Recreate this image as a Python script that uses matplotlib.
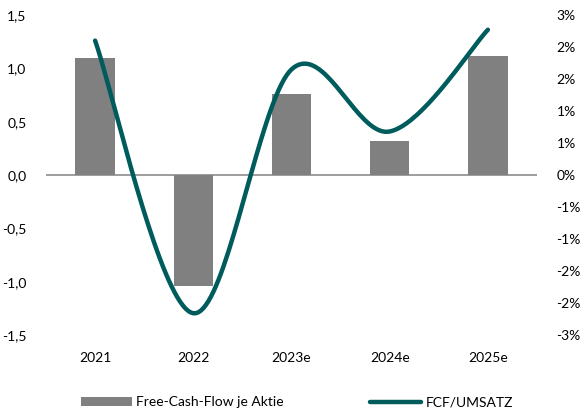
import matplotlib
matplotlib.use('Agg')
import matplotlib.pyplot as plt
from matplotlib.ticker import FuncFormatter, MultipleLocator
from matplotlib.patches import Patch
from matplotlib.lines import Line2D
import numpy as np
import math

plt.rcParams['font.family'] = ['Lato', 'DejaVu Sans']

# Daten
jahre = ['2021', '2022', '2023e', '2024e', '2025e']
fcf_je_aktie = [1.10, -1.04, 0.76, 0.32, 1.12]
fcf_umsatz = [2.10, -2.16, 1.65, 0.68, 2.27]   # in %

bar_color = '#808080'
line_color = '#005B5C'


def smooth(xs, ys, n=40):
    # Catmull-Rom wie Excel-Glättung
    px = np.r_[xs[0], xs, xs[-1]]
    py = np.r_[ys[0], ys, ys[-1]]
    ox, oy = [], []
    for i in range(1, len(px) - 2):
        p0 = np.array([px[i], py[i]])
        p3 = np.array([px[i + 1], py[i + 1]])
        c1 = p0 + (np.array([px[i + 1], py[i + 1]]) - np.array([px[i - 1], py[i - 1]])) / 6
        c2 = p3 - (np.array([px[i + 2], py[i + 2]]) - np.array([px[i], py[i]])) / 6
        t = np.linspace(0, 1, n)[:, None]
        pts = (1 - t) ** 3 * p0 + 3 * (1 - t) ** 2 * t * c1 + 3 * (1 - t) * t ** 2 * c2 + t ** 3 * p3
        ox.extend(pts[:, 0]); oy.extend(pts[:, 1])
    return np.array(ox), np.array(oy)


fig = plt.figure(figsize=(5.84, 4.17), dpi=100)
ax = fig.add_axes([0.0788, 0.1966, 0.8407, 0.7674])
x = np.arange(len(jahre))

ax.bar(x, fcf_je_aktie, width=0.4, color=bar_color, zorder=2)
ax.axhline(0, color='#8C8C8C', linewidth=1.2, zorder=1)
ax.set_xlim(-0.5, len(jahre) - 0.5)
ax.set_ylim(-1.5, 1.5)
ax.yaxis.set_major_locator(MultipleLocator(0.5))
ax.yaxis.set_major_formatter(FuncFormatter(lambda v, p: f'{v:.1f}'.replace('.', ',')))
ax.set_xticks(x)
ax.set_xticklabels(jahre)
for s in ax.spines.values():
    s.set_visible(False)
ax.tick_params(axis='both', length=0, labelsize=10, colors='black')
ax.tick_params(axis='y', pad=14)
ax.tick_params(axis='x', pad=12)

ax2 = ax.twinx()
sx, sy = smooth(x.astype(float), np.array(fcf_umsatz))
ax2.plot(sx, sy, color=line_color, linewidth=3.2, solid_capstyle='round', zorder=3)
ax2.set_ylim(-2.5, 2.5)
ax2.yaxis.set_major_locator(MultipleLocator(0.5))


def pct(v, p):
    r = math.floor(abs(v) + 0.5 + 1e-9)
    if r == 0:
        return '0%'
    return f'-{r}%' if v < 0 else f'{r}%'


ax2.yaxis.set_major_formatter(FuncFormatter(pct))
for s in ax2.spines.values():
    s.set_visible(False)
ax2.tick_params(axis='y', length=0, labelsize=10, pad=14)

handles = [Patch(facecolor=bar_color, label='Free-Cash-Flow je Aktie'),
           Line2D([0], [0], color=line_color, linewidth=3.2, solid_capstyle='round', label='FCF/UMSATZ')]
fig.legend(handles=handles, loc='center', bbox_to_anchor=(0.5084, 0.035), ncol=2, frameon=False,
           fontsize=10, handlelength=3.7, handleheight=0.6, columnspacing=6.2, handletextpad=0.3)

fig.savefig('out.png', dpi=100)
